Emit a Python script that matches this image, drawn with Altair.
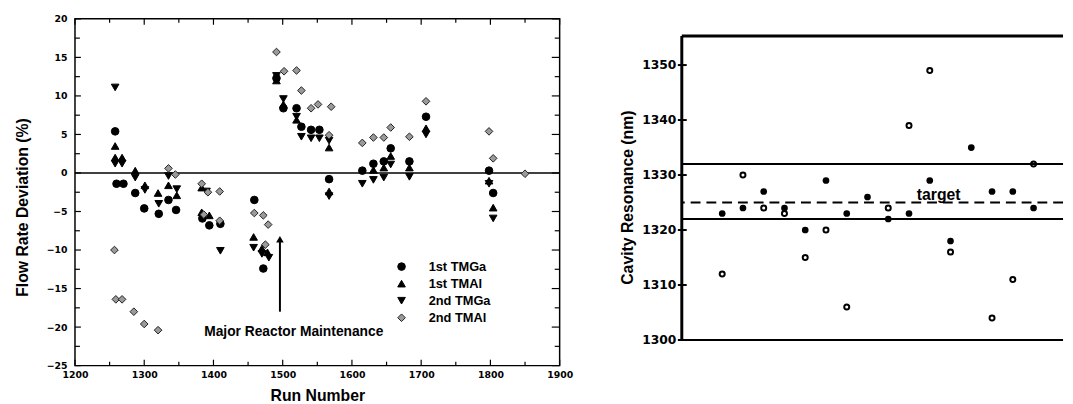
import altair as alt
import pandas as pd

# ---------------- Left panel data ----------------
series_names = ["1st TMGa", "1st TMAl", "2nd TMGa", "2nd TMAl"]

tmga1_run = [1258, 1260, 1270, 1287, 1300, 1321, 1335, 1346, 1384, 1394, 1410, 1459, 1472,
             1491, 1501, 1520, 1527, 1541, 1553, 1567, 1615, 1631, 1646, 1656, 1683, 1707, 1798, 1804]
tmga1_dev = [5.4, -1.4, -1.4, -2.6, -4.6, -5.3, -3.5, -4.8, -5.9, -6.8, -6.6, -3.5, -12.4,
             12.3, 8.4, 8.4, 6.0, 5.6, 5.6, -0.8, 0.3, 1.2, 1.5, 3.2, 1.5, 7.3, 0.3, -2.6]

tmal1_run = [1258, 1258, 1268, 1287, 1301, 1320, 1335, 1347, 1383, 1383, 1394, 1458, 1470, 1478,
             1491, 1501, 1520, 1567, 1567, 1631, 1646, 1656, 1683, 1707, 1798, 1804]
tmal1_dev = [3.5, 2.0, 2.0, 0.3, -1.6, -2.6, -1.6, -2.9, -1.9, -5.1, -5.5, -8.3, -9.8, -10.3,
             12.0, 8.9, 6.9, 3.3, -2.4, 0.4, 0.7, 2.2, 0.7, 5.8, -1.0, -4.5]

tmga2_run = [1258, 1258, 1268, 1287, 1301, 1321, 1335, 1347, 1390, 1410, 1458, 1470, 1480,
             1491, 1501, 1520, 1527, 1541, 1553, 1567, 1567, 1615, 1631, 1646, 1656, 1683, 1707, 1798, 1804]
tmga2_dev = [11.1, 1.2, 1.2, -0.6, -2.2, -4.0, -0.4, -2.1, -2.4, -10.1, -9.7, -10.5, -11.0,
             12.6, 9.6, 7.3, 4.7, 4.5, 4.5, 4.2, -3.0, -1.4, -0.9, -0.6, 1.1, -0.5, 5.0, -1.4, -5.9]

tmal2_run = [1257, 1259, 1268, 1285, 1300, 1320, 1335, 1345, 1383, 1392, 1409, 1386, 1409, 1459, 1472,
             1479, 1475, 1491, 1502, 1520, 1527, 1541, 1551, 1570, 1567, 1615, 1631, 1646, 1656,
             1683, 1707, 1798, 1804, 1850]
tmal2_dev = [-10.0, -16.4, -16.4, -18.0, -19.6, -20.4, 0.6, -0.2, -1.4, -2.5, -2.4, -5.4, -6.2, -5.2, -5.5,
             -6.7, -9.3, 15.7, 13.2, 13.3, 10.7, 8.4, 8.9, 8.6, 4.9, 3.9, 4.6, 4.6, 5.9,
             4.7, 9.3, 5.4, 1.9, -0.1]

x_labels = [1200, 1300, 1400, 1500, 1600, 1700, 1800, 1900]
y_labels = [-25, -20, -15, -10, -5, 0, 5, 10, 15, 20]
x_major = [1200, 1300, 1400, 1500, 1600, 1700, 1800, 1900]
x_minor = [1250, 1350, 1450, 1550, 1650, 1750, 1850]
y_major = [-25, -20, -15, -10, -5, 0, 5, 10, 15, 20]
y_minor = [-22.5, -17.5, -12.5, -7.5, -2.5, 2.5, 7.5, 12.5, 17.5]

arrow_run = [1496]
arrow_from = [-18.0]
arrow_to = [-8.6]
note_run = [1516]
note_dev = [-20.6]
note_text = ["Major Reactor Maintenance"]

# ---------------- Right panel data ----------------
wafer_idx = list(range(1, 17))
filled_nm = [1323, 1324, 1327, 1324, 1320, 1329, 1323, 1326, 1322, 1323, 1329, 1318, 1335, 1327, 1327, 1324]
open_nm = [1312, 1330, 1324, 1323, 1315, 1320, 1306, None, 1324, 1339, 1349, 1316, None, 1304, 1311, 1332]
spec_limits = [1332, 1322]
target_nm = [1325]
r_ticks = [1300, 1310, 1320, 1330, 1340, 1350]
target_label_idx = [11.43]
target_label_nm = [1326.4]

# ---------------- Styling ----------------
TITLE_FONT = "Liberation Sans"
LABEL_FONT = "DejaVu Sans"
W1, H1 = 492, 352
W2, H2 = 387, 326

rows = []
for name, runs, devs in [("1st TMGa", tmga1_run, tmga1_dev), ("1st TMAl", tmal1_run, tmal1_dev),
                         ("2nd TMGa", tmga2_run, tmga2_dev), ("2nd TMAl", tmal2_run, tmal2_dev)]:
    for r, d in zip(runs, devs):
        rows.append({"series": name, "run": r, "dev": d})
left_df = pd.DataFrame(rows)

xs1 = alt.Scale(domain=[1200, 1900], nice=False, zero=False)
ys1 = alt.Scale(domain=[-25, 20], nice=False, zero=False)

x_axis1 = alt.Axis(values=x_labels, format="d", title="Run Number", titleFont=TITLE_FONT,
                   titleFontSize=16, titleFontWeight="bold", titleColor="black",
                   titleY=35.5, titleBaseline="alphabetic",
                   labelFont=LABEL_FONT, labelFontSize=9.5, labelFontWeight="bold", labelColor="black",
                   labelPadding=4, labelOverlap=False, labelFlush=False,
                   ticks=False, tickSize=0, domain=False, grid=False)
y_axis1 = alt.Axis(values=y_labels, format="d", title="Flow Rate Deviation (%)", titleFont=TITLE_FONT,
                   titleFontSize=16, titleFontWeight="bold", titleColor="black",
                   titleAngle=270, titleX=-53, titleY=191, titleAlign="center", titleBaseline="middle",
                   labelFont=LABEL_FONT, labelFontSize=9.5, labelFontWeight="bold", labelColor="black",
                   labelPadding=8, labelOverlap=False, labelFlush=False,
                   ticks=False, tickSize=0, domain=False, grid=False)


def X1(field="run"):
    return alt.X(f"{field}:Q", scale=xs1, axis=x_axis1)


def Y1(field="dev"):
    return alt.Y(f"{field}:Q", scale=ys1, axis=y_axis1)


legend = alt.Legend(title=None, orient="none", legendX=325, legendY=245, padding=0,
                    labelFont=TITLE_FONT, labelFontSize=13, labelFontWeight="bold", labelColor="black",
                    symbolSize=60, symbolStrokeWidth=1, rowPadding=3.3, labelOffset=21)

points = alt.Chart(left_df).mark_point(filled=True, size=60, strokeWidth=1, opacity=1).encode(
    x=X1(), y=Y1(),
    shape=alt.Shape("series:N", scale=alt.Scale(domain=series_names,
                    range=["circle", "triangle-up", "triangle-down", "diamond"]), legend=legend),
    fill=alt.Fill("series:N", scale=alt.Scale(domain=series_names,
                  range=["black", "black", "black", "#9a9a9a"]), legend=legend),
    stroke=alt.Stroke("series:N", scale=alt.Scale(domain=series_names,
                      range=["black", "black", "black", "#222222"]), legend=legend),
)

zero_line = alt.Chart(pd.DataFrame({"dev": [0]})).mark_rule(color="black", strokeWidth=1.5).encode(y=Y1())

bx_major = alt.Chart(pd.DataFrame({"run": x_major})).mark_rule(color="black", strokeWidth=1.2).encode(
    x=X1(), y=alt.value(H1), y2=alt.value(H1 - 6))
bx_minor = alt.Chart(pd.DataFrame({"run": x_minor})).mark_rule(color="black", strokeWidth=1.2).encode(
    x=X1(), y=alt.value(H1), y2=alt.value(H1 - 4))
tx_major = alt.Chart(pd.DataFrame({"run": x_major})).mark_rule(color="black", strokeWidth=1.2).encode(
    x=X1(), y=alt.value(0), y2=alt.value(6))
tx_minor = alt.Chart(pd.DataFrame({"run": x_minor})).mark_rule(color="black", strokeWidth=1.2).encode(
    x=X1(), y=alt.value(0), y2=alt.value(4))
ly_major = alt.Chart(pd.DataFrame({"dev": y_major})).mark_rule(color="black", strokeWidth=1.2).encode(
    y=Y1(), x=alt.value(0), x2=alt.value(6))
ly_minor = alt.Chart(pd.DataFrame({"dev": y_minor})).mark_rule(color="black", strokeWidth=1.2).encode(
    y=Y1(), x=alt.value(0), x2=alt.value(5))
ry_major = alt.Chart(pd.DataFrame({"dev": y_major})).mark_rule(color="black", strokeWidth=1.2).encode(
    y=Y1(), x=alt.value(W1), x2=alt.value(W1 - 8))
ry_minor = alt.Chart(pd.DataFrame({"dev": y_minor})).mark_rule(color="black", strokeWidth=1.2).encode(
    y=Y1(), x=alt.value(W1), x2=alt.value(W1 - 5))

arrow_df = pd.DataFrame({"run": arrow_run, "dev": arrow_from, "dev2": arrow_to})
arrow_shaft = alt.Chart(arrow_df).mark_rule(color="black", strokeWidth=2).encode(
    x=X1(), y=Y1(), y2="dev2:Q")
arrow_head = alt.Chart(pd.DataFrame({"run": arrow_run, "dev": arrow_to})).mark_point(
    shape="triangle-up", filled=True, size=60, color="black", opacity=1).encode(x=X1(), y=Y1())

note = alt.Chart(pd.DataFrame({"run": note_run, "dev": note_dev, "label": note_text})).mark_text(
    font=TITLE_FONT, fontSize=14, fontWeight="bold", color="black", align="center", baseline="middle"
).encode(x=X1(), y=Y1(), text="label:N")

left = alt.layer(
    zero_line, bx_major, bx_minor, tx_major, tx_minor, ly_major, ly_minor, ry_major, ry_minor,
    arrow_shaft, arrow_head, note, points
).properties(width=W1, height=H1, view=alt.ViewBackground(stroke="black", strokeWidth=1.5))

# ---------------- Right panel ----------------
xs2 = alt.Scale(domain=[-0.946, 17.42], nice=False, zero=False)
ys2 = alt.Scale(domain=[1300, 1358.4], nice=False, zero=False)

y_axis2 = alt.Axis(values=r_ticks, format="d", title="Cavity Resonance (nm)", titleFont=TITLE_FONT,
                   titleFontSize=16, titleFontWeight="bold", titleColor="black",
                   titleAngle=270, titleX=-55, titleY=181, titleAlign="center", titleBaseline="middle",
                   labelFont=LABEL_FONT, labelFontSize=12.5, labelFontWeight="bold", labelColor="black",
                   labelPadding=6, labelOverlap=False, labelFlush=False,
                   ticks=False, tickSize=0, domain=False, grid=False)


def X2(field="idx"):
    return alt.X(f"{field}:Q", scale=xs2, axis=None)


def Y2(field="nm"):
    return alt.Y(f"{field}:Q", scale=ys2, axis=y_axis2)


frame_top = 1355.3
top_border = alt.Chart(pd.DataFrame({"nm": [frame_top]})).mark_rule(color="black", strokeWidth=3).encode(y=Y2())
bottom_border = alt.Chart(pd.DataFrame({"nm": [1300]})).mark_rule(color="black", strokeWidth=2).encode(y=Y2())
left_border = alt.Chart(pd.DataFrame({"nm": [1300], "nm2": [frame_top]})).mark_rule(
    color="black", strokeWidth=3).encode(y=Y2(), y2="nm2:Q", x=alt.value(0))
r_tick_rules = alt.Chart(pd.DataFrame({"nm": r_ticks})).mark_rule(color="black", strokeWidth=2).encode(
    y=Y2(), x=alt.value(-4), x2=alt.value(5))
spec_rules = alt.Chart(pd.DataFrame({"nm": spec_limits})).mark_rule(color="black", strokeWidth=2).encode(y=Y2())
target_rule = alt.Chart(pd.DataFrame({"nm": target_nm})).mark_rule(
    color="black", strokeWidth=2, strokeDash=[10, 6]).encode(y=Y2())

filled_df = pd.DataFrame({"idx": wafer_idx, "nm": filled_nm})
open_df = pd.DataFrame({"idx": wafer_idx, "nm": open_nm}).dropna()

filled_pts = alt.Chart(filled_df).mark_point(shape="circle", filled=True, size=46, color="black", opacity=1).encode(
    x=X2(), y=Y2())
open_pts = alt.Chart(open_df).mark_point(shape="circle", filled=False, size=26, color="black",
                                         strokeWidth=2, opacity=1).encode(x=X2(), y=Y2())
target_text = alt.Chart(pd.DataFrame({"idx": target_label_idx, "nm": target_label_nm, "t": ["target"]})).mark_text(
    font=TITLE_FONT, fontSize=16, fontWeight="bold", color="black", align="center", baseline="middle").encode(
    x=X2(), y=Y2(), text="t:N")

right = alt.layer(
    top_border, bottom_border, left_border, r_tick_rules, spec_rules, target_rule,
    open_pts, filled_pts, target_text
).properties(width=W2, height=H2, view=alt.ViewBackground(stroke="transparent"))

chart = alt.hconcat(left, right, spacing=124, bounds="flush").properties(
    padding={"left": 6, "top": 2, "right": 0, "bottom": 0}
).configure(background="white")

chart.save("out.html", embed_options={"renderer": "svg", "actions": False})
